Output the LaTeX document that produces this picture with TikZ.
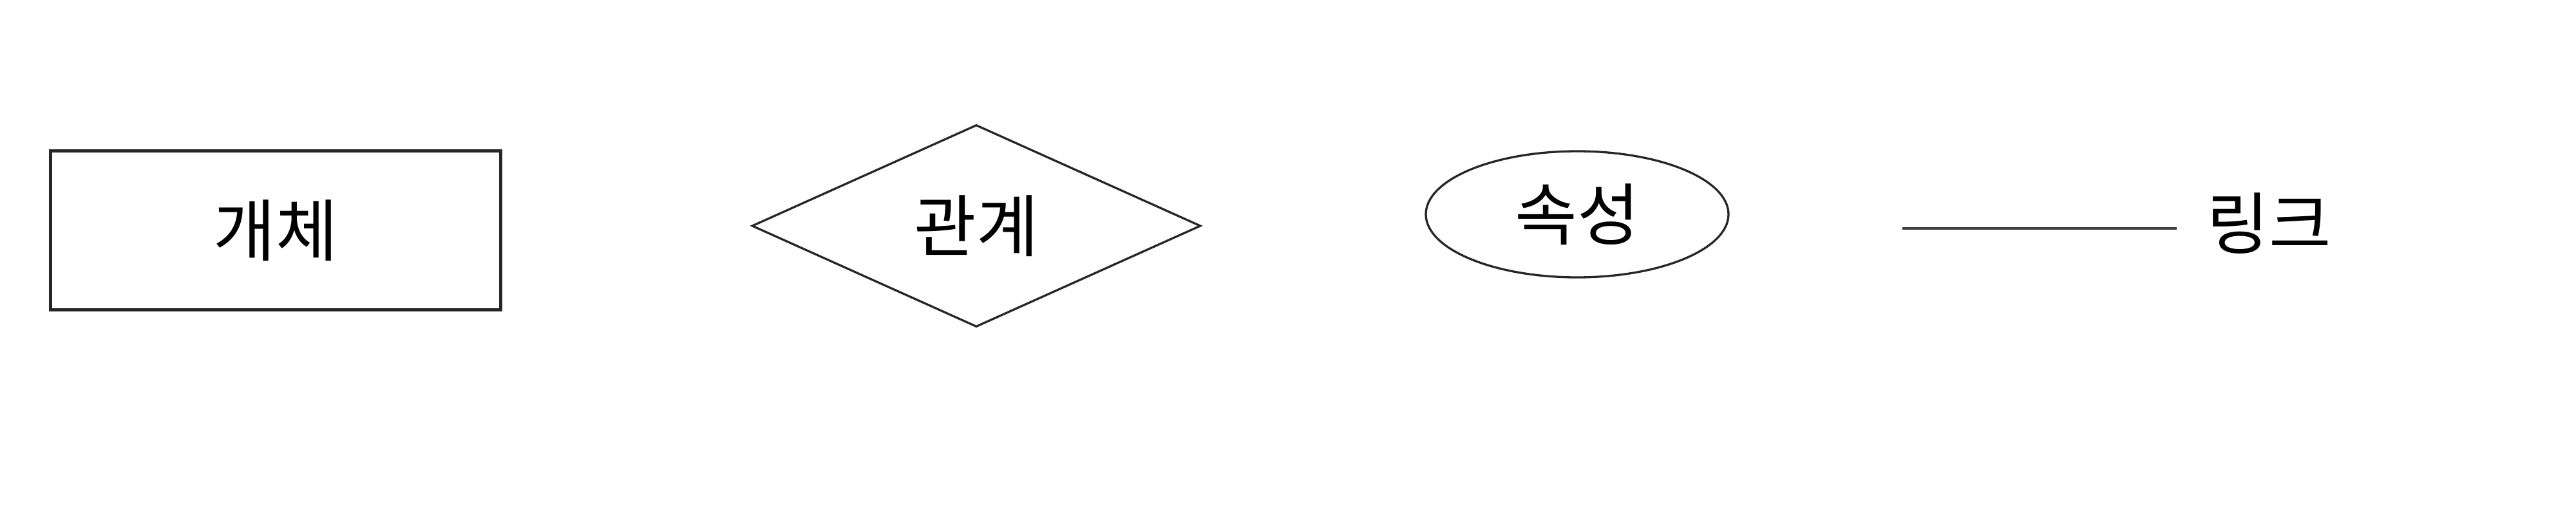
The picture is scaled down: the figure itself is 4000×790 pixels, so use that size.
\documentclass[tikz,border=0pt]{standalone}
\usepackage{fontspec}
\setmainfont{Noto Sans CJK KR}
\usetikzlibrary{shapes.geometric}
\tikzset{
  shp/.style={draw=black!85, line width=0.33pt, inner sep=0pt, font=\fontsize{10.5pt}{12pt}\selectfont},
  lbl/.style={inner sep=0pt, font=\fontsize{10.5pt}{12pt}\selectfont},
}
\begin{document}
\begin{tikzpicture}[x=0.1pt,y=-0.1pt]
\useasboundingbox[fill=white] (0,0) rectangle (4000,790);
\node[shp, rectangle, line width=0.42pt, minimum width=69.9pt, minimum height=24.7pt] (ent) at (428,358) {개체};
\node[shp, diamond, minimum width=69.7pt, minimum height=31.4pt] (rel) at (1516,351) {관계};
\node[shp, ellipse, minimum width=47pt, minimum height=19.6pt] (att) at (2449,333) {속성};
\coordinate (la) at (2954,355);
\coordinate (lb) at (3380,355);
\draw[draw=black!75, line width=0.4pt] (la) -- (lb);
\node[lbl] (lnk) at (3523,347) {링크};
\end{tikzpicture}
\end{document}
